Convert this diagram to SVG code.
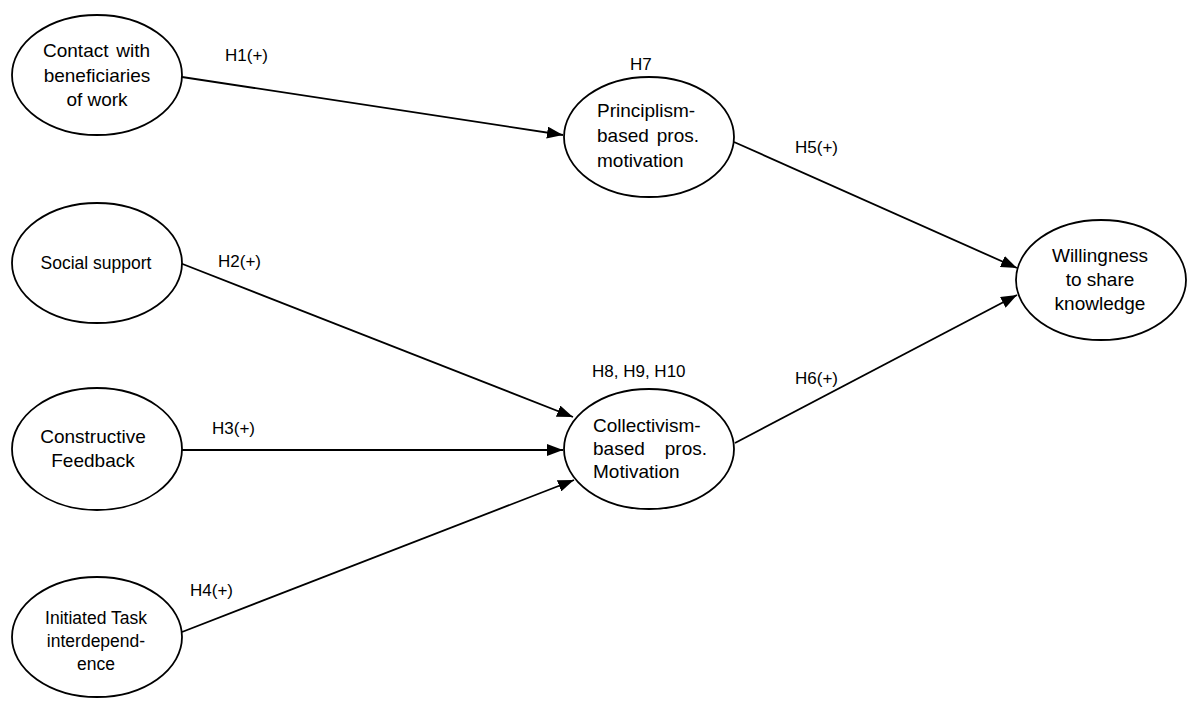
<svg xmlns="http://www.w3.org/2000/svg" width="1200" height="706" viewBox="0 0 1200 706">
<style>
.node ellipse{fill:#fff;stroke:#000;stroke-width:1.8}
.node text{font-family:"Liberation Sans",Arial,sans-serif;font-size:19px;fill:#000}
.c{text-anchor:middle}
.e{text-anchor:end}
.edge{stroke:#000;stroke-width:1.8;fill:none;marker-end:url(#arr)}
.lbl{font-family:"Liberation Sans",Arial,sans-serif;font-size:17px;fill:#000}
</style>
<defs>
<marker id="arr" markerWidth="16" markerHeight="12" refX="16" refY="6" orient="auto" markerUnits="userSpaceOnUse">
<path d="M0,0 L16,6 L0,12 Z" fill="#000"/>
</marker>
</defs>
<rect width="1200" height="706" fill="#fff"/>
<g id="connectors">
<line class="edge" x1="182" y1="77" x2="563" y2="135"/>
<line class="edge" x1="180" y1="263" x2="573" y2="417"/>
<line class="edge" x1="182" y1="450" x2="563" y2="450"/>
<line class="edge" x1="182" y1="632" x2="574" y2="480"/>
<line class="edge" x1="734" y1="142" x2="1017" y2="268"/>
<line class="edge" x1="735" y1="443" x2="1017" y2="295"/>
<text class="lbl" x="225" y="61">H1(+)</text>
<text class="lbl" x="218" y="267">H2(+)</text>
<text class="lbl" x="212" y="434">H3(+)</text>
<text class="lbl" x="190" y="596">H4(+)</text>
<text class="lbl" x="795" y="153">H5(+)</text>
<text class="lbl" x="795" y="384">H6(+)</text>
<text class="lbl" x="630" y="70">H7</text>
<text class="lbl" x="592" y="377">H8, H9, H10</text>
</g>
<g id="contact" class="node">
<ellipse cx="97" cy="75" rx="85" ry="60"/>
<text x="43" y="57">Contact</text>
<text class="e" x="150" y="57">with</text>
<text class="c" x="97" y="82">beneficiaries</text>
<text class="c" x="97" y="106">of work</text>
</g>
<g id="social" class="node">
<ellipse cx="97" cy="263" rx="85" ry="60"/>
<text class="c" x="96" y="269" style="font-size:17.5px">Social support</text>
</g>
<g id="feedback" class="node">
<ellipse cx="97" cy="449" rx="85" ry="61"/>
<text class="c" x="93" y="443">Constructive</text>
<text class="c" x="93" y="467">Feedback</text>
</g>
<g id="task" class="node">
<ellipse cx="97" cy="637" rx="85" ry="60"/>
<text class="c" x="96" y="624" style="font-size:17.5px">Initiated Task</text>
<text class="c" x="96" y="647" style="font-size:17.5px">interdepend-</text>
<text class="c" x="96" y="670" style="font-size:17.5px">ence</text>
</g>
<g id="principlism" class="node">
<ellipse cx="649" cy="137" rx="85" ry="60"/>
<text x="597" y="117">Principlism-</text>
<text x="597" y="142">based</text>
<text class="e" x="699" y="142">pros.</text>
<text x="597" y="167">motivation</text>
</g>
<g id="collectivism" class="node">
<ellipse cx="649" cy="449" rx="85" ry="60"/>
<text x="593" y="432">Collectivism-</text>
<text x="593" y="455">based</text>
<text class="e" x="707" y="455">pros.</text>
<text x="593" y="478">Motivation</text>
</g>
<g id="willingness" class="node">
<ellipse cx="1101" cy="280" rx="85" ry="60"/>
<text class="c" x="1100" y="262">Willingness</text>
<text class="c" x="1100" y="286">to share</text>
<text class="c" x="1100" y="310">knowledge</text>
</g>
</svg>
